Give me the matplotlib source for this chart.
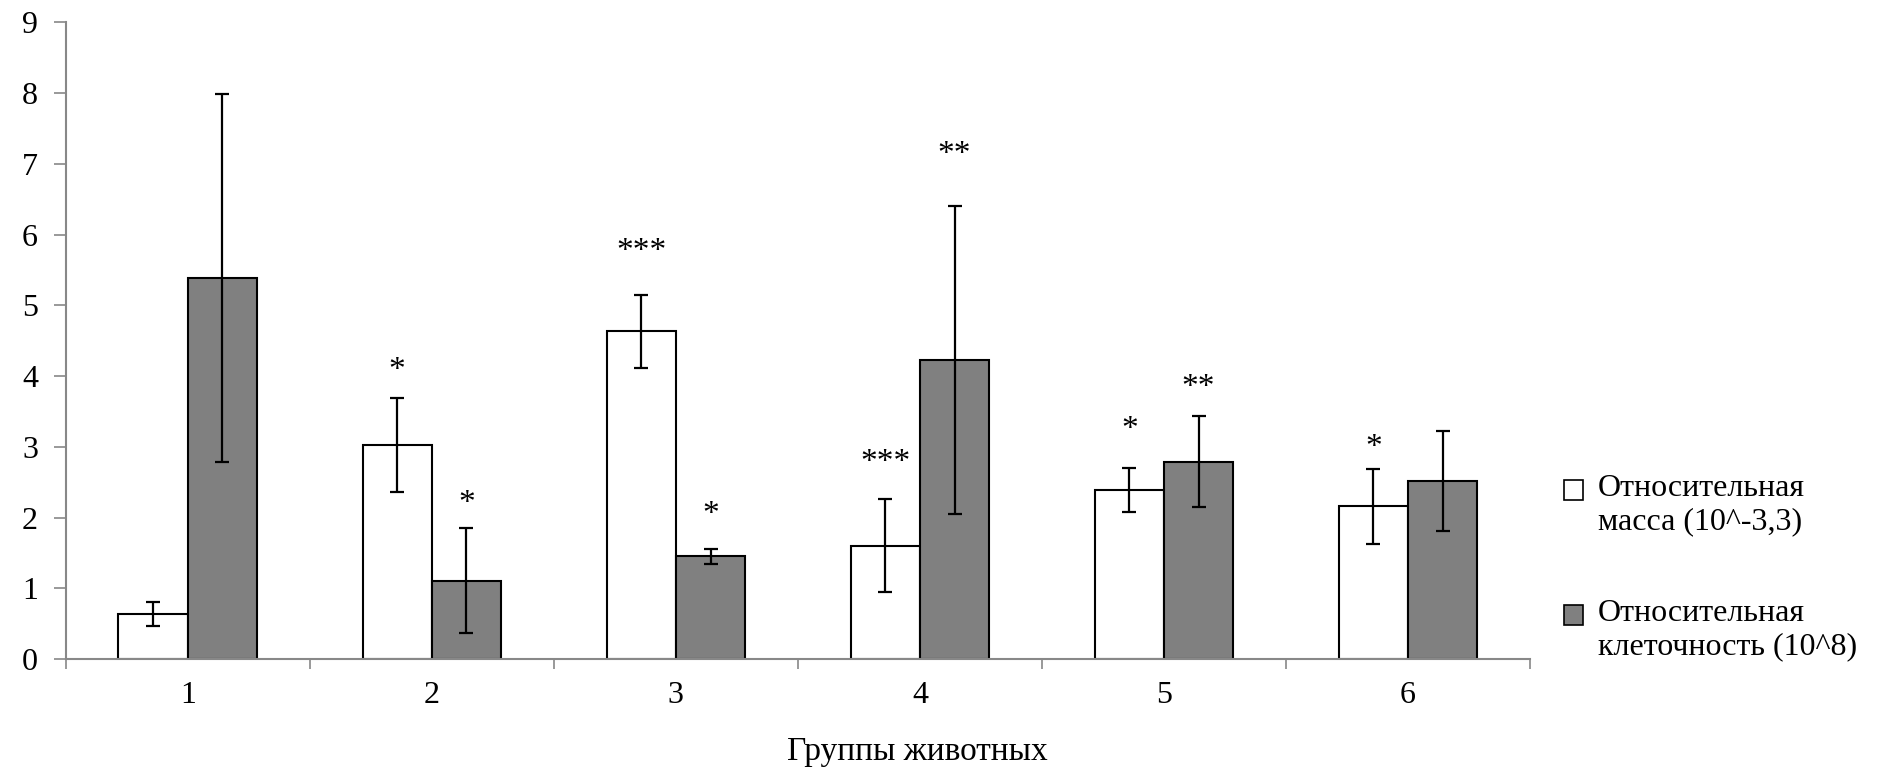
import matplotlib
matplotlib.use('Agg')
import matplotlib.pyplot as plt
from matplotlib.patches import Patch
import numpy as np

plt.rcParams['font.family'] = ['Liberation Serif', 'DejaVu Serif']

groups = ['1', '2', '3', '4', '5', '6']
mass = [0.63, 3.03, 4.63, 1.60, 2.39, 2.16]
mass_err = [0.17, 0.665, 0.51, 0.655, 0.315, 0.53]
cells = [5.38, 1.11, 1.45, 4.23, 2.79, 2.52]
cells_err = [2.6, 0.74, 0.105, 2.18, 0.64, 0.71]

# significance marks and the height they sit at
mass_marks = ['', '*', '***', '***', '*', '*']
mass_mark_y = [0, 4.08, 5.76, 2.77, 3.24, 2.98]
cells_marks = ['', '*', '*', '**', '**', '']
cells_mark_y = [0, 2.2, 2.04, 7.13, 3.83, 0]

mass_label = 'Относительная\nмасса (10^-3,3)'
cells_label = 'Относительная\nклеточность (10^8)'

fig = plt.figure(figsize=(18.95, 7.69), dpi=100)
ax = fig.add_axes([0.0347, 0.143, 0.7727, 0.828])

x = np.arange(1, len(groups) + 1)
w = 0.284
err_kw = dict(ecolor='black', elinewidth=1.6, capsize=5, capthick=1.6)
ax.bar(x - w / 2, mass, w, yerr=mass_err, color='white', edgecolor='black',
       linewidth=1.5, error_kw=err_kw, zorder=2)
ax.bar(x + w / 2, cells, w, yerr=cells_err, color='#808080', edgecolor='black',
       linewidth=1.5, error_kw=err_kw, zorder=2)

for i in range(len(groups)):
    if mass_marks[i]:
        ax.text(x[i] - w / 2, mass_mark_y[i], mass_marks[i], ha='center',
                va='center', fontsize=24)
    if cells_marks[i]:
        ax.text(x[i] + w / 2, cells_mark_y[i], cells_marks[i], ha='center',
                va='center', fontsize=24)

ax.set_xlim(0.5, len(groups) + 0.5)
ax.set_ylim(0, 9)
ax.set_yticks(range(0, 10))
ax.set_xticks(np.arange(0.5, len(groups) + 1, 1))
ax.set_xticklabels([])
ax.set_xticks(x, minor=True)
ax.set_xticklabels(groups, minor=True)

for s in ['top', 'right']:
    ax.spines[s].set_visible(False)
for s in ['left', 'bottom']:
    ax.spines[s].set_color('#888888')
    ax.spines[s].set_linewidth(1.5)
ax.tick_params(axis='y', direction='out', length=9, width=1.2, color='#888888',
               labelsize=23, pad=11)
ax.tick_params(axis='x', which='major', direction='out', length=7, width=1.2,
               color='#888888')
ax.tick_params(axis='x', which='minor', length=0, labelsize=23, pad=15.5)

fig.text(917 / 1895, 1 - 752 / 769, 'Группы животных', ha='center', va='center',
         fontsize=24)

fs = 23
handles = [Patch(facecolor='white', edgecolor='black', linewidth=1.2),
           Patch(facecolor='#808080', edgecolor='black', linewidth=1.2)]
leg = fig.legend(handles, [mass_label, cells_label], loc='upper left',
                 bbox_to_anchor=(0.817, 0.404), frameon=False, fontsize=fs,
                 handlelength=0.6, handleheight=0.6, handletextpad=0.45,
                 labelspacing=1.95, borderpad=0)
for p in leg.get_patches():
    p.set_y(p.get_y() + fs * 0.47)

fig.savefig('out.png', dpi=100)
